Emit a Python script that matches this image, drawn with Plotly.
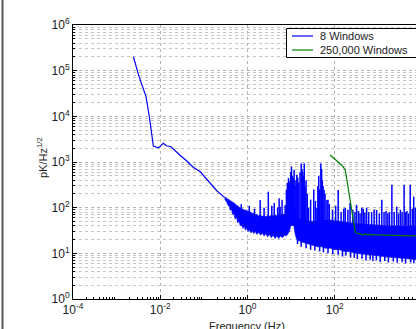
import plotly.graph_objects as go

# ---------------- data ----------------
# "8 Windows" spectrum: clean low-frequency part
blue_f = [0.00242, 0.00327, 0.00472, 0.00562, 0.00695, 0.00904, 0.01175, 0.0141,
          0.0174, 0.0219, 0.0284, 0.0407, 0.0575, 0.0818, 0.141, 0.198, 0.30]
blue_v = [2.02e5, 7.4e4, 2.7e4, 9.8e3, 2240, 2040, 2570, 2240,
          2190, 1820, 1410, 1050, 760, 617, 340, 235, 166]

# "8 Windows" noisy band above ~0.3 Hz: upper / lower envelope
band_f = [0.30, 0.32, 0.34, 0.36, 0.38, 0.40, 0.43, 0.46, 0.49, 0.52, 0.56, 0.60,
          0.64, 0.68, 0.73, 0.78, 0.84, 0.90, 0.96, 1.03, 1.1, 1.2, 1.3, 1.4, 1.5,
          1.65, 1.8, 2.0, 2.2, 2.4, 2.6, 2.9, 3.2, 3.5, 3.9, 4.3, 4.7, 5.2, 5.7,
          6.3, 7.0, 7.7, 8.5, 9.2, 10, 10.5, 11, 11.5, 12, 13, 14, 15, 17, 20, 23,
          25, 30, 35, 40, 50, 60, 80, 100, 130, 160, 200, 250, 300, 400, 500, 600,
          800, 1000, 1300, 1600, 2000, 3000, 4000, 5000, 7300]
band_hi = [172, 165, 160, 155, 150, 148, 138, 135, 126, 122, 112, 110,
           102, 100, 95, 93, 88, 90, 84, 86, 78, 80, 74, 76, 70,
           72, 66, 68, 64, 68, 63, 67, 64, 69, 66, 70, 66, 70, 68,
           73, 71, 76, 78, 84, 90, 100, 100, 90, 80, 62, 60, 58, 55, 54, 52,
           52, 50, 51, 52, 53, 53, 54, 52, 50, 48, 46, 46, 45, 44, 44, 42,
           42, 41, 41, 40, 40, 40, 40, 40, 40]
band_lo = [152, 138, 128, 110, 112, 88, 92, 70, 74, 56, 62, 46,
           52, 40, 44, 35, 39, 32, 36, 30, 33, 28, 31, 27, 30,
           26, 29, 25, 28, 24, 27, 23, 26, 22, 25, 21, 24, 21, 24,
           22, 25, 24, 27, 31, 40, 52, 58, 42, 30, 22, 19, 19, 18, 17, 16.5,
           16, 15, 14.5, 14, 14, 13, 13, 12, 12, 11, 11, 10.5, 10, 9.5, 9.2, 9,
           9, 8.8, 8.5, 8.2, 8, 7.8, 7.6, 7.5, 7.3]

# narrow peaks rising out of the band
spike_f = [0.72, 1.1, 1.45, 1.95, 2.4, 3.0, 3.6, 4.1, 4.9, 5.3, 5.6, 6.2, 7.3, 7.8,
           8.2, 8.7, 9.0, 9.4, 9.8, 10.2, 10.6, 11.2, 11.7, 12.3, 12.8, 13.5, 14.2,
           15, 16, 17, 17.8, 18.5, 19.2, 20, 21, 22, 23.5, 25, 28, 33, 36, 39, 41,
           43, 45, 48, 50, 52, 54, 57, 60, 66, 70, 75, 89, 105, 120, 140, 160, 174,
           200, 224, 260, 290, 316, 350, 380, 417, 450, 490, 537, 600, 700, 800,
           912, 1050, 1200, 1350, 1500, 1650, 1800, 2040, 2300, 2630, 2900, 3200,
           3500, 3890, 4200, 4500, 4900, 5370, 6000, 6460, 7000]
spike_v = [120, 110, 95, 148, 100, 224, 110, 126, 100, 160, 105, 150, 115, 250,
           350, 447, 380, 300, 600, 794, 500, 450, 676, 400, 300, 525, 450,
           350, 600, 933, 700, 600, 500, 933, 300, 400, 200, 100, 150, 250, 140, 100, 300,
           500, 250, 933, 700, 400, 300, 245, 200, 148, 150, 120, 89, 110, 245, 80, 95, 98,
           90, 126, 90, 80, 115, 85, 75, 100, 95, 78, 100, 80, 80, 90,
           89, 75, 150, 80, 85, 75, 80, 316, 80, 105, 75, 90,
           80, 316, 80, 85, 75, 316, 95, 174, 100]

# short dips below the band
dip_f = [14, 17, 22, 28, 35, 45, 55, 70, 90, 120, 150, 180, 230, 280, 330, 420,
         520, 650, 750, 900, 1100, 1400, 1700, 2200, 2700, 3500, 4200, 5500, 6500]
dip_v = [16, 14, 13, 12, 11.5, 11, 10.5, 10, 9.5, 9.3, 8.5, 9, 8.2, 8, 7.5, 7.6,
         7, 7.2, 6.8, 7, 6.5, 6.8, 6.3, 6.6, 6.2, 6.4, 6.0, 6.3, 6.1]

# "250,000 Windows" spectrum
green_f = [78.3, 145, 174, 224, 295, 324, 400, 450, 500, 560, 620, 700, 780, 900,
           1100, 1500, 2000, 3000, 5000, 7300]
green_v = [1420, 851, 676, 148, 29.5, 27.5, 26, 25.5, 26.5, 25, 26.5, 25, 26, 25.2,
           25.4, 25, 24.8, 24.5, 24.2, 24]

x_tick_vals = [1e-4, 1e-2, 1e0, 1e2, 1e4]
x_tick_text = ["10<sup>-4</sup>", "10<sup>-2</sup>", "10<sup>0</sup>", "10<sup>2</sup>", "10<sup>4</sup>"]
y_tick_vals = [1e0, 1e1, 1e2, 1e3, 1e4, 1e5, 1e6]
y_tick_text = ["10<sup>0</sup>", "10<sup>1</sup>", "10<sup>2</sup>", "10<sup>3</sup>",
               "10<sup>4</sup>", "10<sup>5</sup>", "10<sup>6</sup>"]

legend_names = ["8 Windows", "250,000 Windows"]
x_title = "Frequency (Hz)"
y_title = "pK/Hz<sup>1/2</sup>"

# ---------------- figure ----------------
BLUE = "#0000ff"
GREEN = "#008000"
SPIKE_BASE = 40
DIP_TOP = 20
FONT = "Liberation Sans, Arial, sans-serif"

W, H = 416, 329
ML, MT, MB, MR = 73, 25, 30, 0
pw, ph = W - ML - MR, H - MT - MB


def px(x):
    return (x - ML) / pw


def py(y):
    return 1 - (y - MT) / ph


fig = go.Figure()

# band polygon
fig.add_trace(go.Scatter(
    x=band_f + band_f[::-1], y=band_hi + band_lo[::-1],
    mode="lines", fill="toself", fillcolor=BLUE,
    line=dict(color=BLUE, width=0.6), showlegend=False, hoverinfo="skip"))

# spikes and dips
sx, sy = [], []
for f, v in zip(spike_f, spike_v):
    sx += [f, f, None]
    sy += [SPIKE_BASE, v, None]
for f, v in zip(dip_f, dip_v):
    sx += [f, f, None]
    sy += [DIP_TOP, v, None]
fig.add_trace(go.Scatter(x=sx, y=sy, mode="lines", line=dict(color=BLUE, width=1.5),
                         showlegend=False, hoverinfo="skip"))

fig.add_trace(go.Scatter(x=blue_f, y=blue_v, mode="lines", name=legend_names[0],
                         line=dict(color=BLUE, width=1.2), showlegend=False))
fig.add_trace(go.Scatter(x=green_f, y=green_v, mode="lines", name=legend_names[1],
                         line=dict(color=GREEN, width=1.2), showlegend=False))

minor_x = [m * 10.0 ** k for k in range(-4, 4) for m in range(2, 10)]
minor_y = [m * 10.0 ** k for k in range(0, 6) for m in range(2, 10)]

x_max_log = -4 + 8 * pw / 349.0

fig.update_xaxes(
    type="log", range=[-4, x_max_log],
    tickmode="array", tickvals=x_tick_vals, ticktext=x_tick_text,
    ticks="inside", ticklen=4, tickcolor="black",
    showline=True, linecolor="black", linewidth=1, mirror=True,
    showgrid=True, gridcolor="#b4b4b4", griddash="dot", gridwidth=1,
    zeroline=False,
    tickfont=dict(family=FONT, size=12, color="#222"),
    minor=dict(tickmode="array", tickvals=minor_x, ticks="inside", ticklen=2,
               tickcolor="black", showgrid=False),
)
fig.update_yaxes(
    type="log", range=[0, 6],
    tickmode="array", tickvals=y_tick_vals, ticktext=y_tick_text,
    ticks="inside", ticklen=4, tickcolor="black",
    showline=True, linecolor="black", linewidth=1, mirror=False,
    showgrid=True, gridcolor="#b4b4b4", griddash="dot", gridwidth=1,
    zeroline=False,
    tickfont=dict(family=FONT, size=12, color="#222"),
    minor=dict(tickmode="array", tickvals=minor_y, ticks="inside", ticklen=2,
               tickcolor="black", showgrid=True, gridcolor="#c4c4c4", griddash="dot",
               gridwidth=1),
)

# legend drawn as a box with line samples and text
leg_rows_y = [36, 50]
leg_colors = [BLUE, GREEN]
shapes = [
    dict(type="line", xref="paper", yref="paper",
         x0=px(2.5), x1=px(2.5), y0=py(0), y1=py(H),
         line=dict(color="#555", width=2)),
    dict(type="rect", xref="paper", yref="paper", layer="above",
         x0=px(286.5), x1=px(430), y0=py(28.5), y1=py(57.5),
         fillcolor="white", line=dict(color="black", width=1)),
]
annotations = [
    dict(text=x_title, xref="paper", yref="paper",
         x=px(247), y=py(318), xanchor="center", yanchor="top", showarrow=False,
         font=dict(size=11, color="#222")),
    dict(text=y_title, xref="paper", yref="paper",
         x=px(42), y=py(158), textangle=-90,
         xanchor="center", yanchor="middle", showarrow=False,
         font=dict(size=11, color="#222")),
]
for name, col, yy in zip(legend_names, leg_colors, leg_rows_y):
    shapes.append(dict(type="line", xref="paper", yref="paper", layer="above",
                       x0=px(292), x1=px(313), y0=py(yy), y1=py(yy),
                       line=dict(color=col, width=1.2)))
    annotations.append(dict(text=name, xref="paper", yref="paper",
                            x=px(318), y=py(yy), xanchor="left", yanchor="middle",
                            showarrow=False, font=dict(size=11, color="#222")))

fig.update_layout(
    width=W, height=H,
    margin=dict(l=ML, r=MR, t=MT, b=MB, pad=0),
    paper_bgcolor="white", plot_bgcolor="white",
    font=dict(family=FONT, size=11, color="#222"),
    showlegend=False,
    annotations=annotations,
    shapes=shapes,
)

fig.write_html("out.html", config={"displayModeBar": False},
               post_script="document.body.style.margin='0';document.body.style.overflow='hidden';")
